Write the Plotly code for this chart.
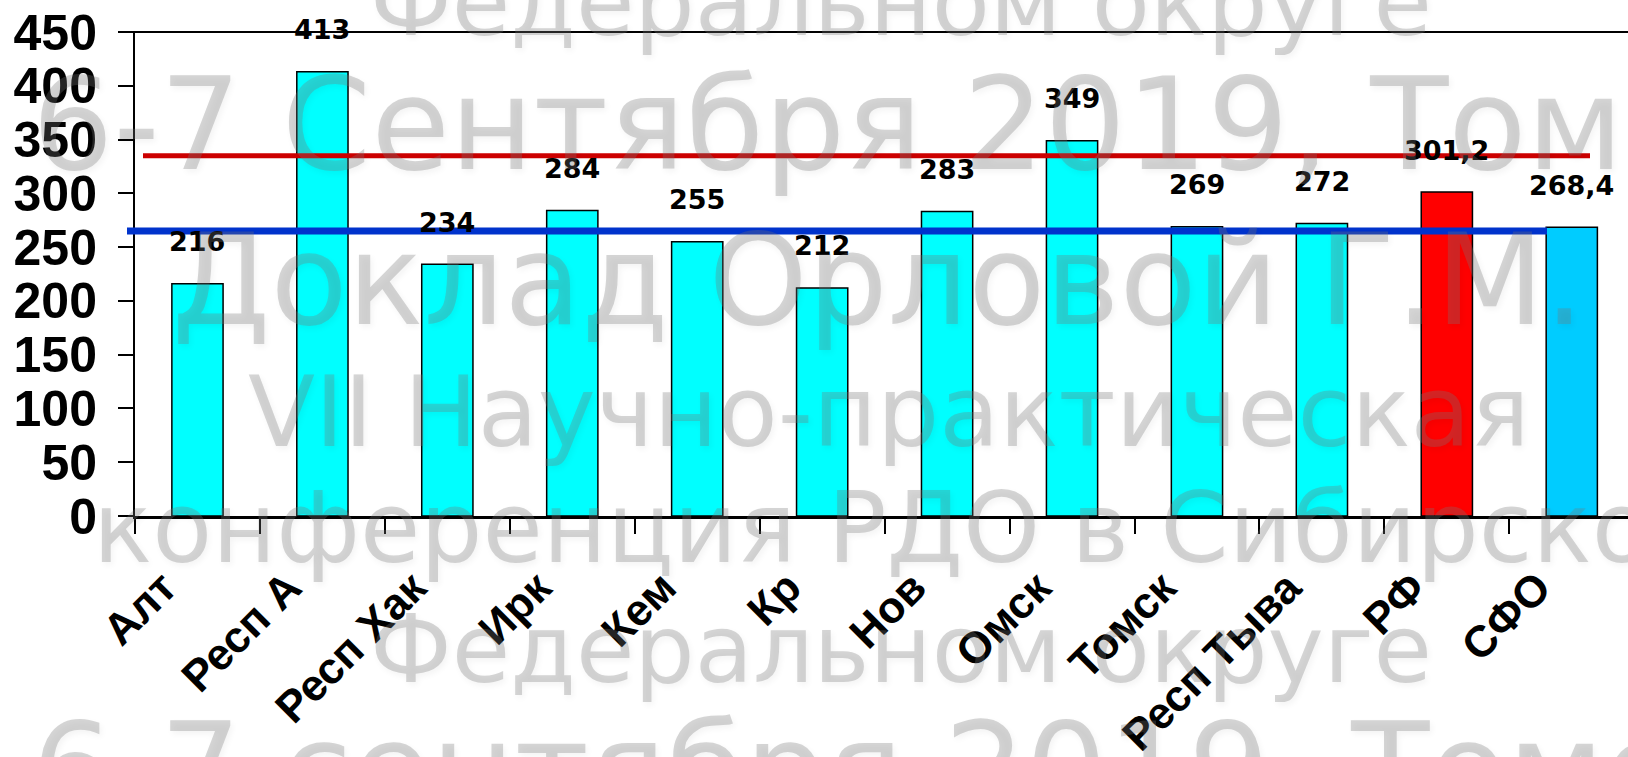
import plotly.graph_objects as go

# ---------------- data ----------------
categories = ["Алт", "Респ А", "Респ Хак", "Ирк", "Кем", "Кр", "Нов",
              "Омск", "Томск", "Респ Тыва", "РФ", "СФО"]
values = [216, 413, 234, 284, 255, 212, 283, 349, 269, 272, 301.2, 268.4]
value_labels = ["216", "413", "234", "284", "255", "212", "283", "349",
                "269", "272", "301,2", "268,4"]
bar_colors = ["#00FFFF"] * 10 + ["#FF0000", "#00CCFF"]
red_level = 335
blue_level = 265
y_ticks = [0, 50, 100, 150, 200, 250, 300, 350, 400, 450]

# watermark text lines (background overlay)
wm_text = ["Федеральном округе", "6-7 Сентября 2019, Томск", "Доклад Орловой Г.М.",
           "VII Научно-практическая", "конференция РДО в Сибирском",
           "Федеральном округе", "6-7 сентября 2019, Томск"]

# ---------------- layout geometry (pixels) ----------------
W, H = 1628, 757
L, R, T, B = 135, 0, 32, 241
PW = W - L - R
PH = H - T - B


def px_x(px):
    return (px - L) / PW


def px_y(py):
    return (H - B - py) / PH


wm_left = [368, 30, 170, 246, 91, 368, 30]
wm_base = [36, 170, 325, 447, 563, 683, 815]
wm_size = [95, 128, 126, 98, 98, 95, 128]

fig = go.Figure()
fig.add_trace(go.Bar(
    x=categories, y=values,
    marker=dict(color=bar_colors, line=dict(color="black", width=1.5)),
    hoverinfo="x+y",
))

annotations = []
for c, v, t in zip(categories, values, value_labels):
    annotations.append(dict(
        x=c, y=v, xref="x", yref="y", text=t, showarrow=False,
        yanchor="middle", yshift=42,
        font=dict(family="DejaVu Sans", size=27, color="black", weight="bold"),
    ))

for t, xl, bl, fs in zip(wm_text, wm_left, wm_base, wm_size):
    bottom_px = bl + 0.236 * fs + 1
    annotations.append(dict(
        x=px_x(xl), y=px_y(bottom_px), xref="paper", yref="paper",
        xanchor="left", yanchor="bottom", text=t, showarrow=False,
        font=dict(family="DejaVu Sans", size=fs, color="rgba(120,120,120,0.30)",
                  shadow="2px 3px 6px rgba(0,0,0,0.16)"),
    ))

shapes = [
    # top frame line
    dict(type="line", xref="paper", yref="paper", x0=px_x(120), x1=1, y0=1, y1=1,
         line=dict(color="black", width=2)),
    # red reference line
    dict(type="line", xref="paper", yref="y", x0=px_x(143), x1=px_x(1590),
         y0=red_level, y1=red_level, line=dict(color="#CC0000", width=5)),
    # blue reference line
    dict(type="line", xref="paper", yref="y", x0=px_x(127), x1=px_x(1547),
         y0=blue_level, y1=blue_level, line=dict(color="#0033CC", width=7)),
]

fig.update_layout(
    width=W, height=H, autosize=False,
    margin=dict(l=L, r=R, t=T, b=B, pad=0),
    paper_bgcolor="white", plot_bgcolor="white",
    showlegend=False, bargap=0.59,
    annotations=annotations, shapes=shapes,
    xaxis=dict(
        type="category", range=[-0.5, 11.45], automargin=False,
        showline=True, linecolor="black", linewidth=3,
        ticks="outside", ticklen=15, tickwidth=2, tickcolor="black",
        tickson="boundaries", tickangle=-45,
        ticklabelshift=-34, ticklabelstandoff=25,
        tickfont=dict(family="Liberation Sans", size=44, color="black", weight="bold"),
        showgrid=False, zeroline=False,
    ),
    yaxis=dict(
        range=[0, 450], tickmode="array", tickvals=y_ticks, automargin=False,
        showline=True, linecolor="black", linewidth=2,
        ticks="outside", ticklen=15, tickwidth=2, tickcolor="black",
        ticklabelstandoff=11,
        tickfont=dict(family="Liberation Sans", size=50, color="black", weight="bold"),
        showgrid=False, zeroline=False,
    ),
)

fig.write_html("out.html", config={"displayModeBar": False},
               post_script="document.body.style.margin='0';document.body.style.overflow='hidden';")
